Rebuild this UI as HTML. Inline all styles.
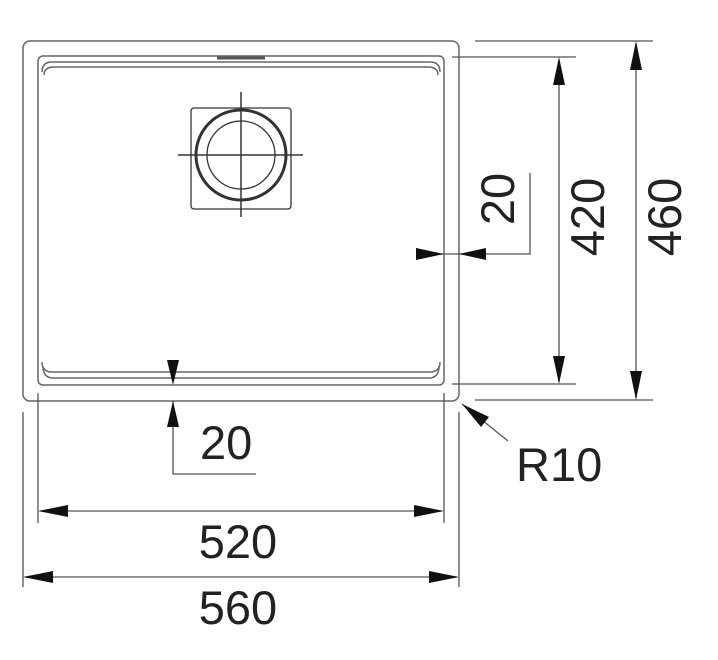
<!DOCTYPE html>
<html><head><style>
body{margin:0;background:#fff;}
svg{display:block;}
text{font-family:"Liberation Sans",sans-serif;font-size:47px;fill:#222;}
</style></head><body>
<svg width="718" height="660" viewBox="0 0 718 660" xmlns="http://www.w3.org/2000/svg">
<g fill="none" stroke="#666" stroke-width="1.5">
<rect x="23" y="41" width="436" height="360" rx="7"/>
<rect x="38" y="56" width="406" height="329" rx="5"/>
<path d="M42 72 Q42 62 52 62 H430 Q440 62 440 72"/>
<path d="M44 75 Q44 67 54 67 H428 Q438 67 438 75"/>
<path d="M42 362 Q42 372 52 372 H430 Q440 372 440 362"/>
<path d="M44 360 Q44 378 54 378 H428 Q438 378 438 360" opacity="0"/>
<path d="M43 366 Q43 378 53 378 H429 Q439 378 439 366"/>
</g>
<path d="M217 58 H265" stroke="#555" stroke-width="3"/>
<g fill="none" stroke="#333">
<rect x="191" y="108" width="100" height="101" rx="3" stroke-width="1.3"/>
<circle cx="241" cy="155" r="45" stroke-width="3"/>
<circle cx="241" cy="155" r="34" stroke-width="1.3"/>
<path d="M178 155 H303 M241 92 V217" stroke-width="1.5"/>
</g>
<g stroke="#555" stroke-width="1.3" fill="none">
<path d="M452 57 H576 M452 384 H576 M475 41 H653 M475 400 H653"/>
<path d="M559 60 V382 M636 44 V398"/>
<path d="M416 254 H530 V173"/>
<path d="M173 401 V474 H256"/>
<path d="M38 393 V523 M444 393 V523 M23 412 V587 M459 412 V587"/>
<path d="M40 511 H442 M25 577 H457"/>
<path d="M462 404 L508 441"/>
</g>
<g fill="#111">
<polygon points="559,57 553,85 565,85"/>
<polygon points="559,384 553,356 565,356"/>
<polygon points="636,41 630,70 642,70"/>
<polygon points="636,400 630,371 642,371"/>
<polygon points="444,254 416,248 416,260"/>
<polygon points="459,254 486,248 486,260"/>
<polygon points="173,385 167,360 179,360"/>
<polygon points="173,401 167,427 179,427"/>
<polygon points="38,511 68,505 68,517"/>
<polygon points="444,511 414,505 414,517"/>
<polygon points="23,577 53,571 53,583"/>
<polygon points="459,577 429,571 429,583"/>
<polygon points="462,404 489,417 481,427"/>
</g>
<text x="200" y="459">20</text>
<text x="238" y="558" text-anchor="middle">520</text>
<text x="238" y="624" text-anchor="middle">560</text>
<text x="516" y="481">R10</text>
<text transform="translate(514,199) rotate(-90)" text-anchor="middle">20</text>
<text transform="translate(604,217) rotate(-90)" text-anchor="middle">420</text>
<text transform="translate(681,217) rotate(-90)" text-anchor="middle">460</text>
</svg>
</body></html>
